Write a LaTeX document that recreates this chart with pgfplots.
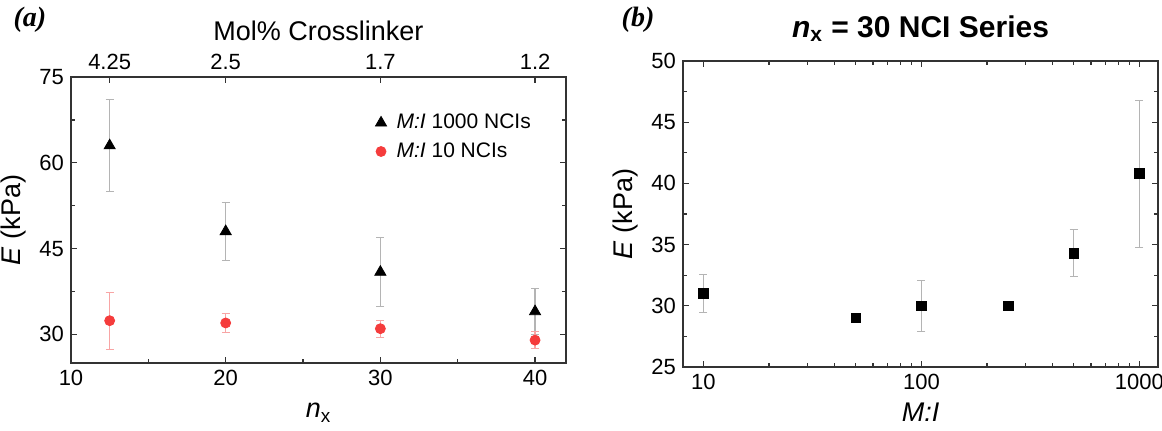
\documentclass[border=0pt]{standalone}
\usepackage{fontspec}
\setmainfont{Liberation Sans}
\newfontfamily\serifbi{Liberation Serif}
\usepackage{pgfplots}
\pgfplotsset{compat=1.18}

\definecolor{ptred}{RGB}{245,60,60}
\definecolor{errred}{RGB}{248,165,165}
\definecolor{errgray}{RGB}{180,180,180}

\pgfplotsset{
  panel/.style={
    scale only axis,
    axis line style={black!80, line width=0.7pt},
    tick style={black!80, line width=0.6pt},
    tick align=inside,
    major tick length=3pt, minor tick length=1.8pt,
    tick label style={font=\fontsize{11}{13}\selectfont},
    label style={font=\fontsize{13.5}{16}\selectfont},
    /pgf/number format/assume math mode=true,
    /pgf/number format/1000 sep={},
    clip=false,
  },
  ebar/.style={error bars/.cd, y dir=both, y explicit,
    error bar style={#1, line width=0.6pt},
    error mark options={#1, rotate=90, mark size=2pt, line width=0.5pt}},
}

\begin{document}
\begin{tikzpicture}
\useasboundingbox (0,0) rectangle (581pt,215pt);

% panel (a)
\begin{axis}[panel, at={(35.5pt,33.5pt)}, anchor=south west,
  width=247.5pt, height=143pt,
  xmin=10, xmax=42, ymin=25, ymax=75,
  xtick={10,20,30,40}, minor x tick num=1, xtick pos=bottom,
  ytick={30,45,60,75}, minor y tick num=1, ytick pos=both,
  xlabel={\textit{n}\textsubscript{x}}, ylabel={\textit{E} (kPa)},
  xlabel style={yshift=-2pt},
  legend style={draw=none, fill=none, at={(0.962,0.9)}, anchor=north east,
    font=\fontsize{10.5}{13}\selectfont, row sep=1.5pt,
    nodes={inner xsep=5pt}},
  legend cell align=left,
]
\addplot[only marks, mark=triangle*, mark size=3.2pt, black, ebar=errgray]
  coordinates {(12.5,63) +- (0,8) (20,48) +- (0,5) (30,40.9) +- (0,6) (40,34) +- (0,4)};
\addlegendentry{\textit{M:I} 1000 NCIs}
\addplot[only marks, mark=*, mark size=2.5pt, ptred, ebar=errred]
  coordinates {(12.5,32.4) +- (0,5) (20,32) +- (0,1.6) (30,31) +- (0,1.5) (40,29) +- (0,1.5)};
\addlegendentry{\textit{M:I} 10 NCIs}
\end{axis}

% top axis of panel (a)
\begin{axis}[panel, at={(35.5pt,33.5pt)}, anchor=south west,
  width=247.5pt, height=143pt,
  xmin=10, xmax=42, ymin=25, ymax=75,
  axis x line*=top, axis y line=none,
  xtick={12.5,20,30,40}, xticklabels={4.25,2.5,1.7,1.2},
  xlabel={Mol\% Crosslinker},
]
\end{axis}

% panel (b)
\begin{axis}[panel, at={(341.5pt,31.5pt)}, anchor=south west,
  width=237.5pt, height=153pt,
  xmode=log, xmin=8.06, xmax=1218, ymin=25, ymax=50,
  xtick={10,100,1000}, log ticks with fixed point,
  ytick={25,30,35,40,45,50}, minor y tick num=1,
  xlabel={\textit{M:I}}, ylabel={\textit{E} (kPa)},
  title={\textit{n}\textsubscript{x} = 30 NCI Series},
  title style={font=\bfseries\fontsize{15}{18}\selectfont},
]
\addplot[only marks, mark=square*, mark size=2.4pt, black, ebar=errgray]
  coordinates {(10,31) +- (0,1.55) (50,29) +- (0,0) (100,30) +- (0,2.1)
    (250,30) +- (0,0) (500,34.3) +- (0,1.9) (1000,40.8) +- (0,6)};
\end{axis}

\node[font=\serifbi\bfseries\itshape\fontsize{14}{16}\selectfont] at (15pt,205pt) {(a)};
\node[font=\serifbi\bfseries\itshape\fontsize{14}{16}\selectfont] at (319pt,205pt) {(b)};
\end{tikzpicture}
\end{document}
